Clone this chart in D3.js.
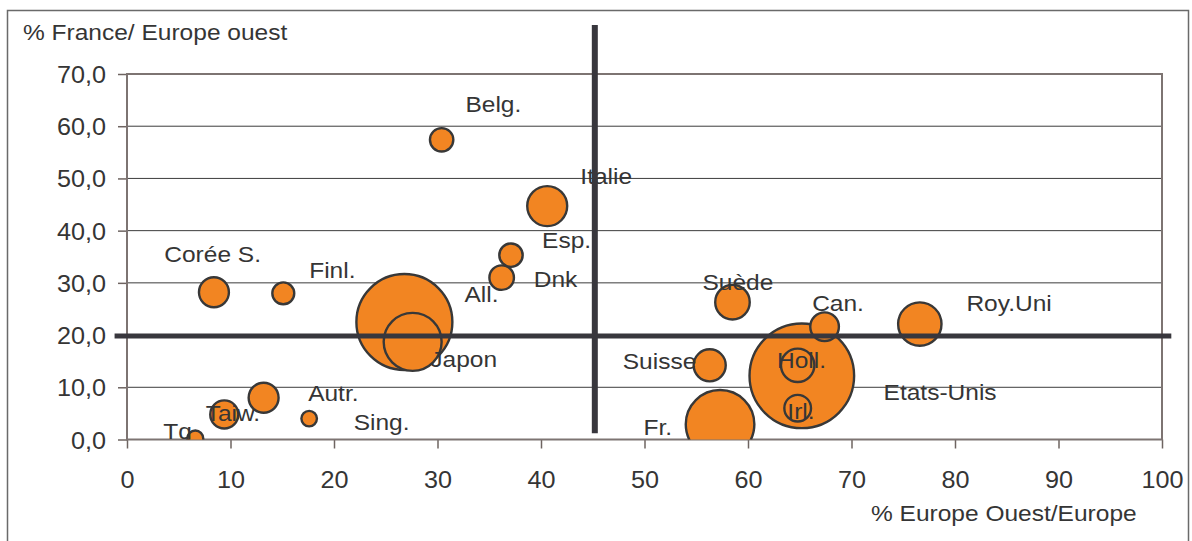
<!DOCTYPE html>
<html>
<head>
<meta charset="utf-8">
<script src="https://cdn.jsdelivr.net/npm/d3@7/dist/d3.min.js"></script>
<style>
  html, body { margin: 0; padding: 0; background: #fff; }
  svg { display: block; }
  text { font-family: "Liberation Sans", Arial, Helvetica, sans-serif; fill: #353535; }
</style>
</head>
<body>
<svg id="chart" width="1192" height="541"></svg>
<script>
// Country labels
const countries = ["Corée S.", "Finl.", "All.", "Japon", "Belg.", "Italie", "Esp.", "Dnk",
  "Autr.", "Taiw.", "Sing.", "Tq", "Suède", "Can.", "Roy.Uni", "Suisse",
  "Etats-Unis", "Holl.", "Irl.", "Fr."];
// % Europe Ouest / Europe
const xValues = [8.4, 15.1, 26.8, 27.6, 30.4, 40.6, 37.1, 36.2,
  13.2, 9.4, 17.6, 6.6, 58.5, 67.4, 76.6, 56.3,
  65.2, 64.8, 64.8, 57.3];
// % France / Europe ouest
const yValues = [28.2, 28.0, 22.5, 18.7, 57.4, 44.7, 35.3, 31.0,
  8.0, 4.8, 4.0, 0.2, 26.3, 21.6, 22.1, 14.2,
  12.2, 14.2, 6.0, 2.9];
// Bubble sizes (area)
const sizes = [8.2, 4.4, 84.2, 30.7, 5.0, 14.6, 5.0, 5.5,
  8.2, 7.2, 2.2, 2.3, 10.9, 7.5, 17.2, 9.4,
  100, 10.2, 6.5, 43.0];
// Label anchors (left / baseline) in axis units
const labelX = [3.6, 17.6, 32.6, 29.3, 32.7, 43.8, 40.1, 39.3,
  17.5, 7.6, 21.9, 3.5, 55.6, 66.2, 81.1, 47.9,
  73.1, 62.8, 63.8, 49.9];
const labelY = [33.9, 31.0, 26.4, 13.8, 62.8, 48.9, 36.6, 29.3,
  7.3, 3.5, 1.8, 0.1, 28.6, 24.6, 24.6, 13.5,
  7.6, 13.7, 3.9, 0.9];

const xTicks = [0, 10, 20, 30, 40, 50, 60, 70, 80, 90, 100];
const yTicks = [0, 10, 20, 30, 40, 50, 60, 70];
const yTitle = "% France/ Europe ouest";
const xTitle = "% Europe Ouest/Europe";

// Quadrant separators, in axis units
const vSplit = { x: 45.2, y0: 1.2, y1: 79.4 };
const hSplit = { y: 19.8, x0: -1.2, x1: 100.9 };

const svg = d3.select("#chart");
const plot = { left: 127, right: 1162, top: 74, bottom: 439.5 };
const SX_TICK = 1.05;  // horizontal stretch of the tick lettering
const SX_TEXT = 1.09;  // horizontal stretch of labels and titles

const x = d3.scaleLinear().domain([0, 100]).range([plot.left, plot.right]);
const y = d3.scaleLinear().domain([0, 70]).range([plot.bottom, plot.top]);
const r = d3.scaleSqrt().domain([0, 100]).range([0, 52.3]);

function stretchText(sel, tx, ty, str, anchor, size, sx) {
  return sel.append("text")
    .attr("transform", `translate(${tx},${ty}) scale(${sx},1)`)
    .attr("text-anchor", anchor)
    .style("font-size", size + "px")
    .text(str);
}

// outer frame
svg.append("rect")
  .attr("x", 7.5).attr("y", 10.5)
  .attr("width", 1181).attr("height", 540)
  .attr("fill", "#fff").attr("stroke", "#6a6a6a").attr("stroke-width", 1.5);

// grid lines
svg.append("g").selectAll("line")
  .data(yTicks.filter(d => d > 0 && d < 70))
  .join("line")
  .attr("x1", plot.left).attr("x2", plot.right)
  .attr("y1", d => y(d)).attr("y2", d => y(d))
  .attr("stroke", "#3c3c3c").attr("stroke-width", 1);

// axes
const fmtY = d => d3.format(".1f")(d).replace(".", ",");
const yAxis = d3.axisLeft(y).tickValues(yTicks).tickSize(9).tickFormat(fmtY);
const xAxis = d3.axisBottom(x).tickValues(xTicks).tickSize(9).tickFormat(d3.format("d"));

const gy = svg.append("g").attr("transform", `translate(${plot.left},0)`).call(yAxis);
const gx = svg.append("g").attr("transform", `translate(0,${plot.bottom})`).call(xAxis);
[gx, gy].forEach(g => {
  g.select(".domain").remove();
  g.selectAll(".tick line").attr("stroke", "#6e6461").attr("stroke-width", 1.5);
  g.selectAll(".tick text").remove();
});
gy.selectAll(".tick").each(function (d) {
  stretchText(d3.select(this), -21, 8.5, fmtY(d), "end", 24, SX_TICK);
});
gx.selectAll(".tick").each(function (d) {
  stretchText(d3.select(this), 0, 48, String(d), "middle", 24, SX_TICK);
});

// plot area border
svg.append("rect")
  .attr("x", plot.left).attr("y", plot.top)
  .attr("width", plot.right - plot.left).attr("height", plot.bottom - plot.top)
  .attr("fill", "none").attr("stroke", "#7d7472").attr("stroke-width", 2);

// clip for bubbles and labels
svg.append("clipPath").attr("id", "plotClip")
  .append("rect")
  .attr("x", plot.left).attr("y", plot.top - 40)
  .attr("width", plot.right - plot.left).attr("height", plot.bottom - plot.top + 40);

const data = countries.map((c, i) => ({
  name: c, x: xValues[i], y: yValues[i], s: sizes[i], lx: labelX[i], ly: labelY[i]
}));

const gPts = svg.append("g").attr("clip-path", "url(#plotClip)");
gPts.selectAll("circle")
  .data(data.slice().sort((a, b) => b.s - a.s))
  .join("circle")
  .attr("cx", d => x(d.x)).attr("cy", d => y(d.y)).attr("r", d => r(d.s))
  .attr("fill", "#f28522").attr("stroke", "#383838").attr("stroke-width", 2.4);

data.forEach(d => stretchText(gPts, x(d.lx), y(d.ly), d.name, "start", 22.5, SX_TEXT));

// quadrant separators
svg.append("line")
  .attr("x1", x(vSplit.x)).attr("x2", x(vSplit.x))
  .attr("y1", y(vSplit.y1)).attr("y2", y(vSplit.y0))
  .attr("stroke", "#38373d").attr("stroke-width", 6);
svg.append("line")
  .attr("x1", x(hSplit.x0)).attr("x2", x(hSplit.x1))
  .attr("y1", y(hSplit.y)).attr("y2", y(hSplit.y))
  .attr("stroke", "#38373d").attr("stroke-width", 5);

// axis titles
stretchText(svg, 23, 40, yTitle, "start", 22.5, SX_TEXT);
stretchText(svg, 871, 521, xTitle, "start", 22.5, SX_TEXT);
</script>
</body>
</html>
